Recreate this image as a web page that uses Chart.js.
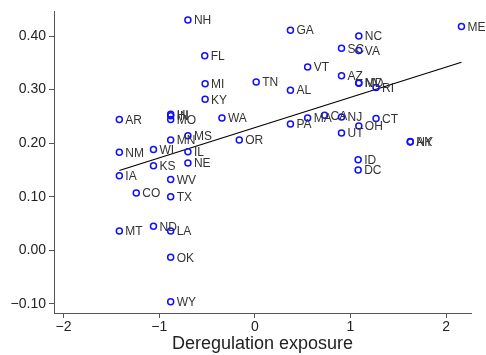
<!DOCTYPE html>
<html>
<head>
<meta charset="utf-8">
<script src="https://cdn.jsdelivr.net/npm/chart.js@4"></script>
<style>
  html, body { margin: 0; padding: 0; background: #fff; }
  #wrap { width: 486px; height: 355px; }
</style>
</head>
<body>
<div id="wrap"><canvas id="myChart"></canvas></div>
<script>
const states = [
  "NH", "GA", "NC", "ME", "SC", "VA", "FL", "VT", "AZ", "MI", "TN", "MD", "NV",
  "RI", "AL", "KY", "HI", "IN", "MO", "AR", "WA", "CA", "NJ", "MA", "CT", "PA",
  "OH", "UT", "MS", "MN", "OR", "AK", "NY", "WI", "IL", "NM", "ID", "NE", "KS",
  "DC", "IA", "WV", "CO", "TX", "ND", "MT", "LA", "OK", "WY",
];
const exposure = [
  -0.7, 0.372, 1.087, 2.16, 0.906, 1.087, -0.524, 0.552, 0.906, -0.52, 0.014,
  1.087, 1.087, 1.267, 0.372, -0.52, -0.88, -0.88, -0.88, -1.417, -0.344,
  0.729, 0.906, 0.552, 1.267, 0.372, 1.087, 0.906, -0.7, -0.88, -0.163, 1.625,
  1.625, -1.06, -0.7, -1.417, 1.08, -0.7, -1.06, 1.08, -1.417, -0.88, -1.24,
  -0.88, -1.06, -1.417, -0.88, -0.88, -0.88,
];
const change = [
  0.43, 0.411, 0.4, 0.418, 0.377, 0.373, 0.363, 0.342, 0.326, 0.311, 0.314,
  0.313, 0.312, 0.304, 0.299, 0.282, 0.254, 0.251, 0.244, 0.244, 0.247, 0.252,
  0.249, 0.247, 0.246, 0.236, 0.232, 0.219, 0.214, 0.206, 0.206, 0.203, 0.202,
  0.188, 0.184, 0.183, 0.169, 0.163, 0.158, 0.15, 0.139, 0.132, 0.107, 0.1,
  0.045, 0.036, 0.036, -0.013, -0.096,
];
// fitted line end points
const fitX = [-1.417, 2.16];
const fitY = [0.149, 0.351];

const xTicks = [-2, -1, 0, 1, 2];
const yTicks = [-0.1, 0, 0.1, 0.2, 0.3, 0.4];

const minus = (s) => s.replace("-", "\u2212");

const labelPlugin = {
  id: "stateLabels",
  afterDatasetsDraw(chart) {
    const meta = chart.getDatasetMeta(0);
    const c = chart.ctx;
    c.save();
    c.font = "12px 'Liberation Sans', Arial, sans-serif";
    c.fillStyle = "#333";
    c.textBaseline = "middle";
    c.textAlign = "left";
    meta.data.forEach((pt, i) => {
      c.fillText(states[i], pt.x + 6, pt.y + 1);
    });
    c.restore();
  },
};

Chart.defaults.font.family = "'Liberation Sans', Arial, sans-serif";
Chart.defaults.color = "#222";

const ctx = document.getElementById("myChart");

new Chart(ctx, {
  type: "scatter",
  data: {
    datasets: [
      {
        label: "states",
        data: exposure.map((x, i) => ({ x: x, y: change[i] })),
        pointRadius: 3,
        pointBorderWidth: 1.5,
        pointBorderColor: "#1010ff",
        pointBackgroundColor: "rgba(0,0,0,0)",
        pointHoverRadius: 3,
      },
      {
        label: "fit",
        type: "line",
        data: fitX.map((x, i) => ({ x: x, y: fitY[i] })),
        borderColor: "#000",
        borderWidth: 1.2,
        pointRadius: 0,
        fill: false,
      },
    ],
  },
  plugins: [labelPlugin],
  options: {
    responsive: true,
    maintainAspectRatio: false,
    animation: false,
    layout: { padding: { top: 8, right: 15, left: 0, bottom: 0 } },
    plugins: {
      legend: { display: false },
      tooltip: { enabled: false },
    },
    scales: {
      x: {
        type: "linear",
        min: -2.1,
        max: 2.26,
        afterBuildTicks: (s) => {
          s.ticks = xTicks.map((v) => ({ value: v }));
        },
        afterFit: (s) => {
          s.height = 42;
        },
        ticks: {
          font: { size: 14 },
          color: "#222",
          padding: 1,
          callback: (v) => minus(String(v)),
        },
        grid: {
          drawOnChartArea: false,
          drawTicks: true,
          tickLength: 5,
          color: "#555",
        },
        border: { display: true, color: "#555", width: 1 },
        title: {
          display: true,
          text: "Deregulation exposure",
          font: { size: 18 },
          color: "#222",
          padding: { top: 0, bottom: 0 },
        },
      },
      y: {
        type: "linear",
        min: -0.117,
        max: 0.446,
        afterBuildTicks: (s) => {
          s.ticks = yTicks.map((v) => ({ value: v }));
        },
        afterFit: (s) => {
          s.width = 54;
        },
        ticks: {
          font: { size: 14 },
          color: "#222",
          padding: 3,
          callback: (v) => minus(v.toFixed(2)),
        },
        grid: {
          drawOnChartArea: false,
          drawTicks: true,
          tickLength: 5,
          color: "#555",
        },
        border: { display: true, color: "#555", width: 1 },
      },
    },
  },
});
</script>
</body>
</html>
